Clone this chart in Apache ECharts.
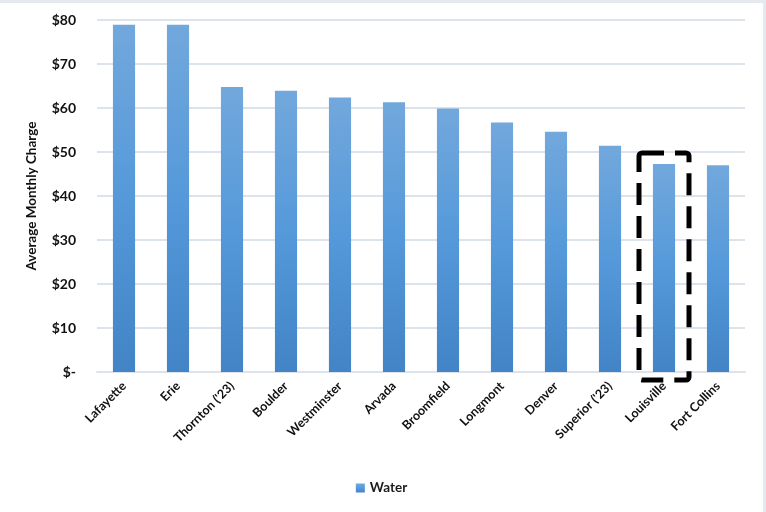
<!DOCTYPE html>
<html>
<head>
<meta charset="utf-8">
<script src="https://cdn.jsdelivr.net/npm/echarts@6/dist/echarts.min.js"></script>
<style>
  html, body { margin: 0; padding: 0; background: #fff; }
  #main { width: 763px; height: 509px; border-top: 3px solid #e6e9ee; border-right: 3px solid #e6e9ee; }
</style>
</head>
<body>
<div id="main"></div>
<script>
const cities = ['Lafayette', 'Erie', "Thornton ('23)", 'Boulder', 'Westminster', 'Arvada',
  'Broomfield', 'Longmont', 'Denver', "Superior ('23)", 'Louisville', 'Fort Collins']
const water = [78.9, 78.9, 64.8, 63.9, 62.4, 61.3, 59.9, 56.7, 54.6, 51.4, 47.3, 47.0]
const yTicks = [0, 10, 20, 30, 40, 50, 60, 70, 80]
const highlight = 'Louisville'

const fontFamily = 'Lato, "Open Sans", sans-serif'
const chart = echarts.init(document.getElementById('main'))

chart.setOption({
  animation: false,
  textStyle: { fontFamily: fontFamily },
  grid: { left: 97, right: 18, top: 17, bottom: 140 },
  legend: {
    bottom: 12,
    left: 'center',
    itemWidth: 9,
    itemHeight: 9,
    icon: 'rect',
    textStyle: { fontSize: 13.5, fontWeight: 'bold', color: '#1a1a1a', fontFamily: fontFamily },
    data: ['Water']
  },
  xAxis: {
    type: 'category',
    data: cities,
    axisTick: { show: false },
    axisLine: { show: true, lineStyle: { color: '#dde3ea', width: 2 } },
    axisLabel: {
      interval: 0,
      rotate: 45,
      margin: 12,
      fontSize: 12.5,
      fontWeight: 'bold',
      color: '#111'
    }
  },
  yAxis: {
    type: 'value',
    min: yTicks[0],
    max: yTicks[yTicks.length - 1],
    interval: 10,
    name: 'Average Monthly Charge',
    nameLocation: 'middle',
    nameGap: 58,
    nameRotate: 90,
    nameTextStyle: { fontSize: 13.5, fontWeight: 'bold', color: '#111' },
    axisLine: { show: false },
    axisTick: { show: false },
    splitLine: { lineStyle: { color: '#dde3ea', width: 2 } },
    axisLabel: {
      fontSize: 14,
      fontWeight: 'bold',
      color: '#111',
      margin: 21,
      formatter: v => v === 0 ? '$-' : '$' + v
    }
  },
  series: [{
    name: 'Water',
    type: 'bar',
    data: water,
    barWidth: '41%',
    itemStyle: {
      color: new echarts.graphic.LinearGradient(0, 0, 0, 1, [
        { offset: 0, color: '#72a8dc' },
        { offset: 0.5, color: '#5599da' },
        { offset: 1, color: '#4284c6' }
      ])
    }
  }],
  color: ['#5b9bd5']
})

// dashed box around the highlighted city, placed from the axis scale
const idx = cities.indexOf(highlight)
const barTop = chart.convertToPixel({ seriesIndex: 0 }, [idx, water[idx]])
const barBase = chart.convertToPixel({ seriesIndex: 0 }, [idx, 0])
chart.setOption({
  graphic: [{
    type: 'rect',
    shape: { x: barTop[0] - 25, y: barTop[1] - 11, width: 50, height: barBase[1] - barTop[1] + 19, r: 3 },
    style: { fill: null, stroke: '#000', lineWidth: 5, lineDash: [22, 11] },
    z: 10
  }]
})
</script>
</body>
</html>
